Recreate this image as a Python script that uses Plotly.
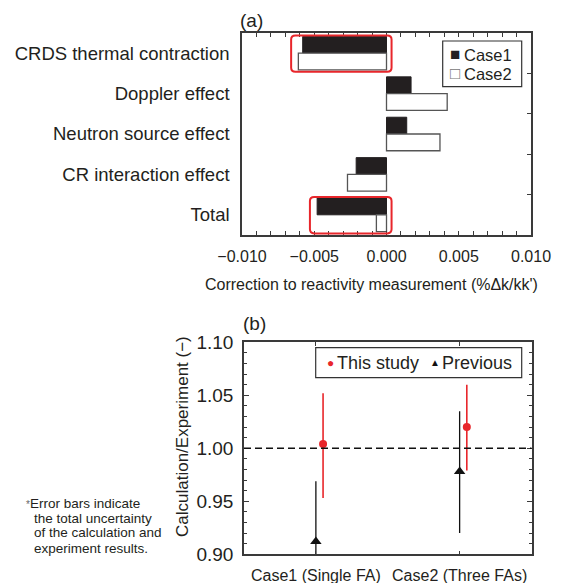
import plotly.graph_objects as go

# ---------------- data ----------------
categories = ["CRDS thermal contraction", "Doppler effect", "Neutron source effect",
              "CR interaction effect", "Total"]
case1 = [-0.0058, 0.0017, 0.0014, -0.0021, -0.0048]
case2 = [-0.0061, 0.0042, 0.0037, -0.0027, -0.0007]
highlighted = [0, 4]

cases_b = ["Case1 (Single FA)", "Case2 (Three FAs)"]
this_study = [1.004, 1.020]
this_study_err_plus = [0.048, 0.040]
this_study_err_minus = [0.051, 0.041]
previous = [0.912, 0.978]
previous_err_plus = [0.057, 0.057]
previous_err_minus = [0.057, 0.058]

W, H = 576, 583
OFF = 8  # page body margin
FONT = "Liberation Sans, Arial, Helvetica, sans-serif"
TXT = "#231f20"
AX = "#3a3a3a"
RED = "#e8262b"

pos = list(range(len(categories)))
bounds = [p + 0.5 for p in pos[:-1]]
xb = list(range(len(cases_b)))
xb_this = [p + 0.05 for p in xb]

def px_x(v):
    return (v - OFF) / W

def px_y(v):
    return 1 - (v - OFF) / H

fig = go.Figure()

# ---------------- (a) bars ----------------
fig.add_trace(go.Bar(
    y=pos, x=case1, orientation="h", name="Case1",
    marker=dict(color="#231f20", line=dict(color="#231f20", width=1)),
    xaxis="x", yaxis="y", showlegend=False))
fig.add_trace(go.Bar(
    y=pos, x=case2, orientation="h", name="Case2",
    marker=dict(color="white", line=dict(color="#555555", width=1.3)),
    xaxis="x", yaxis="y", showlegend=False))

# ---------------- (b) points ----------------
fig.add_trace(go.Scatter(
    x=xb_this, y=this_study, mode="markers", name="This study",
    marker=dict(symbol="circle", size=8, color=RED),
    error_y=dict(type="data", array=this_study_err_plus, arrayminus=this_study_err_minus,
                 color=RED, thickness=1.6, width=0),
    xaxis="x2", yaxis="y3", showlegend=False))
fig.add_trace(go.Scatter(
    x=xb, y=previous, mode="markers", name="Previous",
    marker=dict(symbol="triangle-up", size=10, color="#111111"),
    error_y=dict(type="data", array=previous_err_plus, arrayminus=previous_err_minus,
                 color="#111111", thickness=1.3, width=0),
    xaxis="x2", yaxis="y3", showlegend=False))

# invisible helper so right-hand boundary ticks render on panel (a)
fig.add_trace(go.Scatter(x=[0], y=[pos[0]], mode="markers", opacity=0,
                         showlegend=False, hoverinfo="skip", xaxis="x", yaxis="y2"))

dom_xa = [px_x(242), px_x(531)]
dom_ya = [px_y(235), px_y(33)]
dom_xb = [px_x(244), px_x(531.5)]
dom_yb = [px_y(554.3), px_y(342.3)]

fig.update_layout(
    width=W, height=H,
    margin=dict(l=0, r=0, t=0, b=0, autoexpand=False),
    paper_bgcolor="white", plot_bgcolor="white",
    font=dict(family=FONT, color=TXT),
    showlegend=False,
    barmode="group", bargap=0.17, bargroupgap=0.0,
    xaxis=dict(domain=dom_xa, anchor="y", range=[-0.010, 0.010], automargin=False,
               dtick=0.005, tick0=0, tickformat=".3f", tickangle=0,
               ticks="inside", ticklen=4, tickcolor=AX, mirror="ticks",
               showline=True, linecolor=AX, linewidth=1.5,
               showgrid=False, zeroline=False,
               minor=dict(dtick=0.001, ticks="inside", ticklen=4, tickcolor=AX, showgrid=False),
               tickfont=dict(size=16, color=TXT), ticklabelstandoff=6),
    yaxis=dict(domain=dom_ya, anchor="x", range=[4.5, -0.5], automargin=False,
               tickvals=pos, ticktext=categories, ticks="",
               showline=True, linecolor=AX, linewidth=1.5, mirror=True,
               showgrid=False, zeroline=False,
               tickfont=dict(size=18.5, color=TXT), ticklabelstandoff=7),
    yaxis2=dict(overlaying="y", anchor="x", side="right", range=[4.5, -0.5], automargin=False,
                tickvals=bounds, showticklabels=False, ticks="inside", ticklen=4,
                tickcolor=AX, showgrid=False, zeroline=False, showline=False),
    xaxis2=dict(domain=dom_xb, anchor="y3", range=[-0.5, 1.5], automargin=False,
                tickvals=xb, ticktext=cases_b, tickangle=0,
                ticks="inside", ticklen=4, tickcolor=AX, mirror="ticks",
                showline=True, linecolor=AX, linewidth=1.5,
                showgrid=False, zeroline=False,
                tickfont=dict(size=16, color=TXT), ticklabelstandoff=6),
    yaxis3=dict(domain=dom_yb, anchor="x2", range=[0.90, 1.10], automargin=False,
                dtick=0.05, tick0=0.9, tickformat=".2f",
                ticks="inside", ticklen=5, tickcolor=AX, mirror="ticks",
                showline=True, linecolor=AX, linewidth=1.5,
                showgrid=False, zeroline=False,
                minor=dict(dtick=0.01, ticks="inside", ticklen=3, tickcolor=AX, showgrid=False),
                tickfont=dict(size=19, color=TXT), ticklabelstandoff=5),
)

# dashed reference line at 1.00 on panel (b)
fig.add_shape(type="line", xref="x2 domain", yref="y3", x0=0, x1=1, y0=1.0, y1=1.0,
              line=dict(color="#111111", width=1.5, dash="7px,4px"))

# red rounded highlight boxes on panel (a)
def rounded_rect(x0, x1, y0, y1, rx, ry):
    return (f"M {x0+rx},{y0} L {x1-rx},{y0} Q {x1},{y0} {x1},{y0+ry} "
            f"L {x1},{y1-ry} Q {x1},{y1} {x1-rx},{y1} L {x0+rx},{y1} "
            f"Q {x0},{y1} {x0},{y1-ry} L {x0},{y0+ry} Q {x0},{y0} {x0+rx},{y0} Z")

for i in highlighted:
    xmin = min(case1[i], case2[i], 0) - 0.0005
    xmax = max(case1[i], case2[i], 0) + 0.00035
    fig.add_shape(type="path", xref="x", yref="y",
                  path=rounded_rect(xmin, xmax, pos[i] - 0.44, pos[i] + 0.46, 0.0003, 0.1),
                  line=dict(color=RED, width=2), fillcolor="rgba(0,0,0,0)")

def ann(text, x, y, size, xanchor="center", color=TXT, **kw):
    fig.add_annotation(text=text, xref="paper", yref="paper", x=px_x(x), y=px_y(y),
                       xanchor=xanchor, yanchor="middle", showarrow=False,
                       font=dict(size=size, color=color, family=FONT), **kw)

# ---------------- legend (a) ----------------
fig.add_shape(type="rect", xref="paper", yref="paper",
              x0=px_x(442.7), x1=px_x(521.7), y0=px_y(86.7), y1=px_y(41),
              line=dict(color="#333333", width=1.2), fillcolor="white", layer="above")
ann("\u25A0", 455, 54.5, 17, color="#231f20", borderpad=0)
ann("Case1", 463, 54.8, 16.5, xanchor="left", borderpad=0)
ann("\u25A1", 455, 73.5, 17, color="#777777", borderpad=0)
ann("Case2", 463, 73.8, 16.5, xanchor="left", borderpad=0)

# ---------------- legend (b) ----------------
fig.add_shape(type="rect", xref="paper", yref="paper",
              x0=px_x(315.7), x1=px_x(521.7), y0=px_y(377.7), y1=px_y(347.7),
              line=dict(color="#333333", width=1.2), fillcolor="white", layer="above")
ann("\u25CF", 330, 363, 12, color=RED, borderpad=0)
ann("This study", 336, 363, 18, xanchor="left", borderpad=0)
ann("\u25B2", 435, 362, 10, color="#111111", borderpad=0)
ann("Previous", 441, 363, 18, xanchor="left", borderpad=0)

# panel labels and titles
ann("(a)", 251.5, 20.5, 19)
ann("(b)", 254, 323.5, 19)
ann("Correction to reactivity measurement (%\u0394k/kk')", 371.5, 284, 16)
ann("Calculation/Experiment (\u2212)", 183, 437, 17, textangle=-90)

# footnote
foot_lines = ["<span style='font-size:10px;color:#666'>*</span>Error bars indicate",
              "the total uncertainty", "of the calculation and", "experiment results."]
foot_y = [503.3, 518.3, 532.7, 548.3]
foot_x = [25, 33, 33, 33]
for t, yy, xx in zip(foot_lines, foot_y, foot_x):
    ann(t, xx, yy, 13.5, xanchor="left", borderpad=0)

fig.write_html("out.html")
